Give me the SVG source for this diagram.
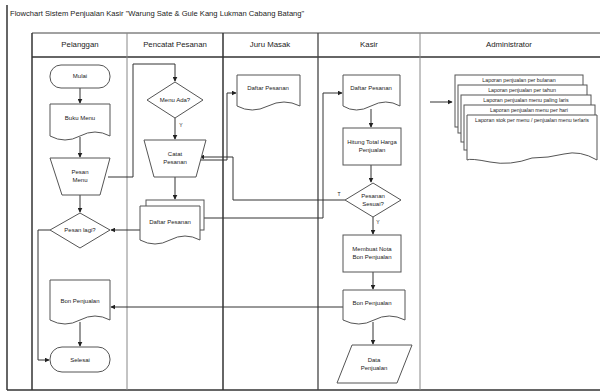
<svg xmlns="http://www.w3.org/2000/svg" width="600" height="392" viewBox="0 0 600 392">
<style>
.t{font-family:"Liberation Sans",Arial,sans-serif;fill:#222;text-anchor:middle}
.n{font-size:6px}
.h{font-size:7.8px}
.s{font-size:5.3px}
.sh{fill:#fff;stroke:#555;stroke-width:1}
.c{fill:none;stroke:#333;stroke-width:1;marker-end:url(#ar)}
.cl{fill:none;stroke:#333;stroke-width:1}
</style>
<defs>
<marker id="ar" viewBox="0 0 8 8" refX="7" refY="4" markerWidth="5" markerHeight="5" orient="auto"><path d="M0,0 L8,4 L0,8 z" fill="#222"/></marker>
</defs>
<rect width="600" height="392" fill="#fff"/>
<text class="t" x="10" y="16" style="font-size:7.6px;text-anchor:start">Flowchart Sistem Penjualan Kasir "Warung Sate &amp; Gule Kang Lukman Cabang Batang"</text>
<g id="frame" fill="none">
<line x1="7" y1="5" x2="7" y2="390" stroke="#333" stroke-width="1.5"/>
<line x1="7" y1="390" x2="600" y2="390" stroke="#333" stroke-width="1.5"/>
<line x1="32" y1="33" x2="600" y2="33" stroke="#444" stroke-width="1"/>
<line x1="32" y1="57" x2="600" y2="57" stroke="#333" stroke-width="1.5"/>
<line x1="32" y1="33" x2="32" y2="390" stroke="#333" stroke-width="1.5"/>
<line x1="127" y1="33" x2="127" y2="390" stroke="#888" stroke-width="1"/>
<line x1="223" y1="33" x2="223" y2="390" stroke="#333" stroke-width="1.5"/>
<line x1="318" y1="33" x2="318" y2="390" stroke="#444" stroke-width="1.3"/>
<line x1="420" y1="33" x2="420" y2="390" stroke="#888" stroke-width="1"/>
</g>
<g id="headers">
<text class="t h" x="80" y="47">Pelanggan</text>
<text class="t h" x="175" y="47">Pencatat Pesanan</text>
<text class="t h" x="270" y="47">Juru Masak</text>
<text class="t h" x="369" y="47">Kasir</text>
<text class="t h" x="509" y="47">Administrator</text>
</g>
<g id="connectors">
<path class="c" d="M80,88 V103"/>
<path class="c" d="M80,137 V157"/>
<path class="c" d="M80,195 V212"/>
<path class="cl" d="M50,230 H38 V360"/>
<path class="c" d="M38,360 H49"/>
<path class="c" d="M80,322 V346"/>
<path class="c" d="M108,177 H133 V64 H175 V81"/>
<path class="c" d="M175,118 V139"/>
<path class="c" d="M175,177 V199"/>
<path class="c" d="M140,230 H111"/>
<path class="c" d="M198,160 H227 V93 H236"/>
<path class="c" d="M345,200 H233 V157 H200"/>
<path class="c" d="M204,218 H323 V93 H342"/>
<path class="c" d="M371,109 V127"/>
<path class="c" d="M371,165 V182"/>
<path class="c" d="M373,217 V234"/>
<path class="c" d="M373,272 V289"/>
<path class="c" d="M343,307 H111"/>
<path class="c" d="M373,322 V344"/>
<path class="c" d="M430,102 H452"/>
<text class="t" x="181" y="127" style="font-size:5px">Y</text>
<text class="t" x="339" y="196" style="font-size:5px">T</text>
<text class="t" x="378" y="224" style="font-size:5px">Y</text>
</g>
<g id="mulai">
<rect class="sh" x="50" y="65" width="60" height="23" rx="11"/>
<text class="t n" x="80" y="78">Mulai</text>
</g>
<g id="buku-menu">
<path class="sh" d="M50,104 H110 V136 Q95,128 80,136 T50,136 Z"/>
<text class="t n" x="80" y="120">Buku Menu</text>
</g>
<g id="pesan-menu">
<polygon class="sh" points="50,158 110,158 100,195 62,195"/>
<text class="t n" x="80" y="174">Pesan</text>
<text class="t n" x="80" y="182">Menu</text>
</g>
<g id="pesan-lagi">
<polygon class="sh" points="50,230 80,213 110,230 80,248"/>
<text class="t n" x="80" y="232">Pesan lagi?</text>
</g>
<g id="bon-pelanggan">
<path class="sh" d="M50,280 H110 V320 Q95,312 80,320 T50,320 Z"/>
<text class="t n" x="80" y="303">Bon Penjualan</text>
</g>
<g id="selesai">
<rect class="sh" x="50" y="347" width="60" height="25" rx="12"/>
<text class="t n" x="80" y="362">Selesai</text>
</g>
<g id="menu-ada">
<polygon class="sh" points="147,100 175,82 203,100 175,118"/>
<text class="t n" x="175" y="102">Menu Ada?</text>
</g>
<g id="catat-pesanan">
<polygon class="sh" points="144,140 206,140 196,177 154,177"/>
<text class="t n" x="175" y="156">Catat</text>
<text class="t n" x="175" y="164">Pesanan</text>
</g>
<g id="daftar-pesanan-stack">
<rect class="sh" x="146" y="200" width="58" height="30"/>
<path class="sh" d="M140,206 H200 V240 Q185,232 170,240 T140,240 Z"/>
<text class="t n" x="170" y="224">Daftar Pesanan</text>
</g>
<g id="daftar-pesanan-juru">
<path class="sh" d="M237,75 H300 V106 Q284,98 268,106 T237,106 Z"/>
<text class="t n" x="268" y="90">Daftar Pesanan</text>
</g>
<g id="daftar-pesanan-kasir">
<path class="sh" d="M343,75 H400 V106 Q386,98 371,106 T343,106 Z"/>
<text class="t n" x="371" y="90">Daftar Pesanan</text>
</g>
<g id="hitung-total">
<rect class="sh" x="343" y="128" width="58" height="37"/>
<text class="t n" x="372" y="144">Hitung Total Harga</text>
<text class="t n" x="372" y="152">Penjualan</text>
</g>
<g id="pesanan-sesuai">
<polygon class="sh" points="345,200 373,183 401,200 373,217"/>
<text class="t n" x="373" y="198">Pesanan</text>
<text class="t n" x="373" y="206">Sesuai?</text>
</g>
<g id="membuat-nota">
<rect class="sh" x="343" y="235" width="58" height="37"/>
<text class="t n" x="372" y="251">Membuat Nota</text>
<text class="t n" x="372" y="259">Bon Penjualan</text>
</g>
<g id="bon-kasir">
<path class="sh" d="M343,290 H405 V320 Q389,312 374,320 T343,320 Z"/>
<text class="t n" x="372" y="305">Bon Penjualan</text>
</g>
<g id="data-penjualan">
<polygon class="sh" points="352,345 412,345 397,383 337,383"/>
<text class="t n" x="374" y="362">Data</text>
<text class="t n" x="374" y="370">Penjualan</text>
</g>
<g id="laporan">
<rect class="sh" x="455" y="75" width="128" height="52"/>
<rect class="sh" x="458" y="85" width="129" height="48"/>
<rect class="sh" x="461" y="95" width="130" height="47"/>
<rect class="sh" x="464" y="105" width="131" height="45"/>
<path class="sh" d="M467,115 H597 V160 Q580,150 564,154 T532,158 Q510,166 490,162 T467,160 Z"/>
<text class="t s" x="519" y="82">Laporan penjualan per bulanan</text>
<text class="t s" x="522" y="92">Laporan penjualan per tahun</text>
<text class="t s" x="526" y="102">Laporan penjualan menu paling laris</text>
<text class="t s" x="529" y="112">Laporan penjualan menu per hari</text>
<text class="t s" x="532" y="122">Laporan stok per menu / penjualan menu terlaris</text>
</g>
</svg>
